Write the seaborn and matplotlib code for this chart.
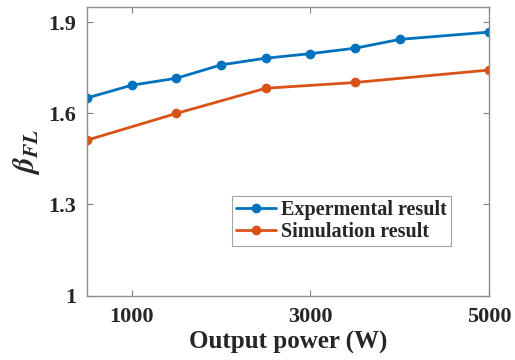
import numpy as np
import pandas as pd
import matplotlib
matplotlib.use("Agg")
import matplotlib.pyplot as plt
import seaborn as sns

exp_power = [500, 1000, 1500, 2000, 2500, 3000, 3500, 4000, 5000]
exp_beta = [1.651, 1.693, 1.716, 1.760, 1.782, 1.797, 1.815, 1.844, 1.868]
sim_power = [500, 1500, 2500, 3500, 5000]
sim_beta = [1.512, 1.600, 1.683, 1.702, 1.743]
series_names = ["Expermental result", "Simulation result"]
x_ticks = [1000, 3000, 5000]
y_ticks = [1, 1.3, 1.6, 1.9]
y_tick_labels = ["1", "1.3", "1.6", "1.9"]

df = pd.concat([
    pd.DataFrame({"power": exp_power, "beta": exp_beta, "series": series_names[0]}),
    pd.DataFrame({"power": sim_power, "beta": sim_beta, "series": series_names[1]}),
])

sns.set_theme(style="white")
plt.rcParams["font.family"] = ["Liberation Serif", "DejaVu Serif"]
plt.rcParams["font.weight"] = "bold"
plt.rcParams["mathtext.fontset"] = "stix"

fig = plt.figure(figsize=(5.15, 3.6), dpi=100)
ax = fig.add_axes([0.169, 0.179, 0.781, 0.801])

palette = {series_names[0]: "#0072BD", series_names[1]: "#D95319"}
sns.lineplot(data=df, x="power", y="beta", hue="series", palette=palette,
             marker="o", markersize=7, markeredgewidth=0, linewidth=2,
             ax=ax, legend=True)

ax.set_xlim(500, 5000)
ax.set_ylim(1, 1.95)
ax.set_xticks(x_ticks)
ax.set_xticklabels([str(t) for t in x_ticks])
ax.set_yticks(y_ticks)
ax.set_yticklabels(y_tick_labels)

ax.tick_params(direction="in", length=4, width=0.8, color="#808080",
               labelsize=16, labelcolor="#262626", top=True, right=True,
               pad=8, bottom=True, left=True)
for lab in ax.get_xticklabels() + ax.get_yticklabels():
    lab.set_fontweight("bold")
for s in ax.spines.values():
    s.set_color("#8c8c8c")
    s.set_linewidth(1.0)

ax.set_xlabel("Output power (W)", fontsize=18, fontweight="bold", color="#262626", labelpad=3)
ax.set_ylabel(r"$\beta_{FL}$", fontsize=22, color="#262626", labelpad=4)

leg = ax.legend(loc="lower left", bbox_to_anchor=(0.36, 0.172), borderaxespad=0,
                frameon=True, fancybox=False, handlelength=2.0,
                handletextpad=0.25, borderpad=0.2, labelspacing=0.1,
                prop={"weight": "bold", "size": 14.5})
leg.get_frame().set_edgecolor("#8c8c8c")
leg.get_frame().set_linewidth(0.8)
for t in leg.get_texts():
    t.set_color("#262626")

fig.savefig("out.png", dpi=100)
